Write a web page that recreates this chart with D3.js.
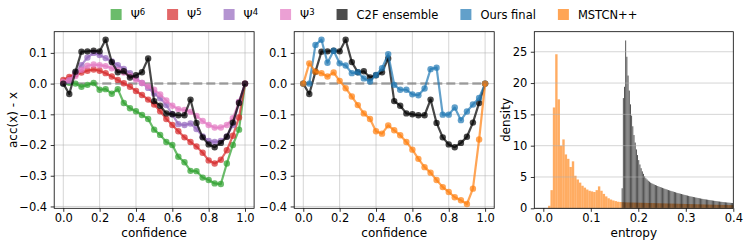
<!DOCTYPE html>
<html>
<head>
<meta charset="utf-8">
<script src="https://cdn.jsdelivr.net/npm/d3@7"></script>
<style>
  body { margin: 0; background: #fff; }
  svg { display: block; font-family: "DejaVu Sans", sans-serif; }
</style>
</head>
<body>
<div id="chart"></div>
<script>
// reliability bins (x of every curve)
const confidence = [0, 0.033, 0.067, 0.1, 0.133, 0.167, 0.2, 0.233, 0.267, 0.3, 0.333,
  0.367, 0.4, 0.433, 0.467, 0.5, 0.533, 0.567, 0.6, 0.633, 0.667, 0.7, 0.733, 0.767,
  0.8, 0.833, 0.867, 0.9, 0.933, 0.967, 1.0];

// acc(x) - x per bin
const psi6 = [0.0, 0.003, 0.0, -0.01, -0.004, 0.002, -0.02, -0.018, -0.033, -0.018, -0.063,
  -0.08, -0.09, -0.102, -0.115, -0.15, -0.167, -0.19, -0.2, -0.238, -0.256, -0.284,
  -0.285, -0.306, -0.314, -0.325, -0.327, -0.26, -0.2, -0.15, 0.0];
const psi5 = [0.012, 0.022, 0.03, 0.036, 0.042, 0.046, 0.042, 0.034, 0.023, 0.012, 0.001,
  -0.01, -0.024, -0.037, -0.052, -0.068, -0.09, -0.115, -0.135, -0.155, -0.175, -0.19,
  -0.205, -0.225, -0.25, -0.26, -0.248, -0.217, -0.17, -0.11, 0.0];
const psi4 = [0.0, 0.008, 0.035, 0.06, 0.085, 0.1, 0.093, 0.083, 0.072, 0.06, 0.048,
  0.034, 0.018, 0.002, -0.014, -0.032, -0.048, -0.07, -0.1, -0.132, -0.135, -0.13,
  -0.148, -0.172, -0.187, -0.19, -0.187, -0.172, -0.135, -0.06, 0.0];
const psi3 = [0.005, 0.012, 0.025, 0.045, 0.058, 0.062, 0.06, 0.057, 0.05, 0.044, 0.036,
  0.025, 0.013, 0.002, -0.009, -0.02, -0.035, -0.055, -0.072, -0.083, -0.086, -0.092,
  -0.105, -0.122, -0.135, -0.143, -0.143, -0.135, -0.113, -0.06, 0.0];
const c2fEnsemble = [0.0, -0.034, 0.039, 0.104, 0.105, 0.107, 0.105, 0.143, 0.07, 0.037, 0.04,
  0.02, 0.027, 0.037, 0.082, -0.057, -0.072, -0.097, -0.1, -0.103, -0.103, -0.052,
  -0.128, -0.175, -0.198, -0.207, -0.193, -0.173, -0.127, -0.063, 0.0];
const oursFinal = [0.0, 0.0, 0.126, 0.143, 0.068, 0.107, 0.066, 0.059, 0.034, 0.037, 0.017,
  0.007, 0.028, 0.05, 0.096, -0.004, -0.02, -0.02, -0.035, -0.038, -0.016, 0.047,
  0.052, -0.101, -0.101, -0.078, -0.119, -0.091, -0.068, -0.047, 0.0];
const mstcn = [0.0, 0.066, 0.039, 0.034, 0.023, 0.036, 0.009, -0.015, -0.042, -0.07, -0.097,
  -0.115, -0.155, -0.163, -0.136, -0.152, -0.168, -0.19, -0.215, -0.245, -0.272, -0.29,
  -0.314, -0.337, -0.353, -0.37, -0.38, -0.392, -0.342, -0.182, 0.0];

// entropy histograms (density per bin)
const mstcnHistStart = 0.01, mstcnBinWidth = 0.005;
const mstcnDensity = [0.4, 2.9, 16.1, 24.6, 17.4, 10.0, 11.0, 8.6, 7.9, 6.6,
  7.5, 5.2, 4.6, 4.1, 3.6, 3.3, 3.0, 2.8, 2.7, 2.6,
  2.9, 3.5, 2.8, 2.3, 1.9, 1.6, 1.4, 1.25, 1.15, 1.05,
  1.0, 0.98, 0.95, 0.94, 0.93, 0.92, 0.91, 0.9, 0.89, 0.88,
  0.87, 0.86, 0.85, 0.84, 0.83, 0.82, 0.81, 0.8, 0.79, 0.78,
  0.77, 0.76, 0.75, 0.74, 0.73, 0.72, 0.71, 0.7, 0.69, 0.68,
  0.67, 0.66, 0.65, 0.64, 0.63, 0.62, 0.61, 0.6, 0.59, 0.58,
  0.57, 0.56, 0.55, 0.54, 0.53, 0.52, 0.51, 0.5];
const c2fHistStart = 0.165, c2fBinWidth = 0.0025;
const c2fDensity = [3.2, 17.6, 19.4, 26.8, 24.2, 21.2, 18.8, 16.6, 14.8, 13.1,
  11.7, 10.5, 9.4, 8.5, 7.7, 7.0, 6.4, 5.9, 5.5, 5.1,
  4.8, 4.6, 4.4, 4.25, 4.1, 4.0, 3.9, 3.8, 3.72, 3.64,
  3.56, 3.48, 3.40, 3.33, 3.26, 3.19, 3.12, 3.05, 2.98, 2.91,
  2.85, 2.79, 2.73, 2.67, 2.61, 2.55, 2.49, 2.43, 2.38, 2.33,
  2.28, 2.23, 2.18, 2.13, 2.08, 2.03, 1.98, 1.93, 1.89, 1.85,
  1.81, 1.77, 1.73, 1.69, 1.65, 1.61, 1.57, 1.53, 1.50, 1.46,
  1.43, 1.40, 1.37, 1.34, 1.31, 1.28, 1.25, 1.22, 1.19, 1.16,
  1.13, 1.10, 1.08, 1.05, 1.03, 1.00, 0.98, 0.96, 0.94, 0.92,
  0.90, 0.88, 0.86, 0.84];

// ticks
const confTicks = [0, 0.2, 0.4, 0.6, 0.8, 1.0];
const calTicks = [-0.4, -0.3, -0.2, -0.1, 0.0, 0.1];
const entropyTicks = [0, 0.1, 0.2, 0.3, 0.4];
const densityTicks = [0, 5, 10, 15, 20, 25];

const legendItems = [
  { label: "Ψ", sup: "6", color: "#2ca02c" },
  { label: "Ψ", sup: "5", color: "#d62728" },
  { label: "Ψ", sup: "4", color: "#9467bd" },
  { label: "Ψ", sup: "3", color: "#e377c2" },
  { label: "C2F ensemble", sup: "", color: "#000000" },
  { label: "Ours final", sup: "", color: "#1f77b4" },
  { label: "MSTCN++", sup: "", color: "#ff7f0e" }
];

const width = 748, height = 245;
const plotTop = 31.7, plotBottom = 208.3;
const fontSize = 12, tickFont = 11.5;

const svg = d3.select("#chart").append("svg")
  .attr("width", width)
  .attr("height", height);

svg.append("rect").attr("width", width).attr("height", height).attr("fill", "#fff");

const yCal = d3.scaleLinear().domain([-0.406, 0.169]).range([plotBottom, plotTop]);
const fmt1 = d3.format(".1f");

function drawFrame(x, y, xTicks, yTicks, xFmt, yFmt, xLabel, yLabel, vGrid) {
  const g = svg.append("g");
  const [x0, x1] = x.range();
  const gridG = g.append("g").attr("class", "grid");
  if (vGrid) {
    gridG.selectAll(".vg").data(xTicks).join("line")
      .attr("x1", d => x(d)).attr("x2", d => x(d))
      .attr("y1", plotTop).attr("y2", plotBottom)
      .attr("stroke", "#b0b0b0").attr("stroke-opacity", 0.6).attr("stroke-width", 0.9);
  }
  gridG.selectAll(".hg").data(yTicks).join("line")
    .attr("x1", x0).attr("x2", x1)
    .attr("y1", d => y(d)).attr("y2", d => y(d))
    .attr("stroke", "#b0b0b0").attr("stroke-opacity", 0.6).attr("stroke-width", 0.9);

  const xAxis = g.append("g").attr("transform", `translate(0,${plotBottom})`)
    .call(d3.axisBottom(x).tickValues(xTicks).tickFormat(xFmt)
      .tickSize(3.5).tickSizeOuter(0).tickPadding(2.5));
  const yAxis = g.append("g").attr("transform", `translate(${x0},0)`)
    .call(d3.axisLeft(y).tickValues(yTicks).tickFormat(yFmt)
      .tickSize(3.5).tickSizeOuter(0).tickPadding(3.5));
  [xAxis, yAxis].forEach(a => {
    a.select(".domain").remove();
    a.selectAll("text").attr("font-size", tickFont).attr("font-family", "DejaVu Sans").attr("fill", "#000");
    a.selectAll("line").attr("stroke", "#000").attr("stroke-width", 0.8);
  });

  g.append("text").attr("x", (x0 + x1) / 2).attr("y", 236.5)
    .attr("text-anchor", "middle").attr("font-size", fontSize).text(xLabel);
  if (yLabel) {
    g.append("text")
      .attr("transform", `translate(${yLabel.x},${(plotTop + plotBottom) / 2}) rotate(-90)`)
      .attr("text-anchor", "middle").attr("font-size", fontSize).text(yLabel.text);
  }
  return g;
}

function drawSpines(x) {
  const [x0, x1] = x.range();
  svg.append("rect").attr("x", x0).attr("y", plotTop)
    .attr("width", x1 - x0).attr("height", plotBottom - plotTop)
    .attr("fill", "none").attr("stroke", "#000").attr("stroke-width", 0.8);
}

function drawSeries(g, x, values, color, alpha) {
  const pts = values.map((v, i) => [confidence[i], v]);
  g.append("path").datum(pts)
    .attr("d", d3.line().x(d => x(d[0])).y(d => yCal(d[1])))
    .attr("fill", "none").attr("stroke", color)
    .attr("stroke-opacity", alpha).attr("stroke-width", 2.2)
    .attr("stroke-linejoin", "round");
  g.selectAll(null).data(pts).join("circle")
    .attr("cx", d => x(d[0])).attr("cy", d => yCal(d[1])).attr("r", 3.2)
    .attr("fill", color).attr("fill-opacity", alpha);
}

function drawZeroLine(g, x) {
  g.append("line")
    .attr("x1", x(0)).attr("x2", x(1)).attr("y1", yCal(0)).attr("y2", yCal(0))
    .attr("stroke", "#7f7f7f").attr("stroke-opacity", 0.7)
    .attr("stroke-width", 2.5).attr("stroke-dasharray", "9,4");
}

// panel 1: calibration of each stage
const x1 = d3.scaleLinear().domain([-0.05, 1.05]).range([54.2, 254.1]);
const p1 = drawFrame(x1, yCal, confTicks, calTicks, fmt1, fmt1, "confidence",
  { x: 17, text: "acc(x) - x" }, true);
drawZeroLine(p1, x1);
drawSeries(p1, x1, psi6, "#2ca02c", 0.7);
drawSeries(p1, x1, psi5, "#d62728", 0.7);
drawSeries(p1, x1, psi4, "#9467bd", 0.7);
drawSeries(p1, x1, psi3, "#e377c2", 0.7);
drawSeries(p1, x1, c2fEnsemble, "#000000", 0.72);
drawSpines(x1);

// panel 2: ensemble vs final vs baseline
const x2 = d3.scaleLinear().domain([-0.05, 1.05]).range([294.2, 494.2]);
const p2 = drawFrame(x2, yCal, confTicks, calTicks, fmt1, fmt1, "confidence", null, true);
drawZeroLine(p2, x2);
drawSeries(p2, x2, c2fEnsemble, "#000000", 0.72);
drawSeries(p2, x2, oursFinal, "#1f77b4", 0.7);
drawSeries(p2, x2, mstcn, "#ff7f0e", 0.7);
drawSpines(x2);

// panel 3: entropy histograms
const x3 = d3.scaleLinear().domain([-0.019, 0.4]).range([534.3, 733.3]);
const y3 = d3.scaleLinear().domain([0, 28.2]).range([plotBottom, plotTop]);
const p3 = svg.append("g");
p3.selectAll(null).data(mstcnDensity).join("rect")
  .attr("x", (d, i) => x3(mstcnHistStart + i * mstcnBinWidth))
  .attr("width", x3(mstcnBinWidth) - x3(0))
  .attr("y", d => y3(d)).attr("height", d => plotBottom - y3(d))
  .attr("fill", "#ff7f0e").attr("fill-opacity", 0.65);
p3.selectAll(null).data(c2fDensity).join("rect")
  .attr("x", (d, i) => x3(c2fHistStart + i * c2fBinWidth))
  .attr("width", x3(c2fBinWidth) - x3(0) - 0.3)
  .attr("y", d => y3(d)).attr("height", d => plotBottom - y3(d))
  .attr("fill", "#000").attr("fill-opacity", 0.75);
drawFrame(x3, y3, entropyTicks, densityTicks, fmt1, d3.format("d"), "entropy",
  { x: 509.5, text: "density" }, false);
drawSpines(x3);

// legend, centred over the figure
const legend = svg.append("g");
const patch = 11, textPad = 9, colSpace = 22;
let lx = 0;
legendItems.forEach(item => {
  const it = legend.append("g").attr("transform", `translate(${lx},0)`);
  it.append("rect").attr("x", 0).attr("y", 9).attr("width", patch).attr("height", patch)
    .attr("fill", item.color).attr("fill-opacity", 0.7);
  const t = it.append("text").attr("x", patch + textPad).attr("y", 19)
    .attr("font-size", 11.5).text(item.label);
  if (item.sup) {
    t.append("tspan").attr("dy", -4.5).attr("font-size", 8.5).text(item.sup);
  }
  lx += patch + textPad + t.node().getComputedTextLength() + colSpace;
});
const legendW = lx - colSpace;
legend.attr("transform", `translate(${(width - legendW) / 2},0)`);
</script>
</body>
</html>
